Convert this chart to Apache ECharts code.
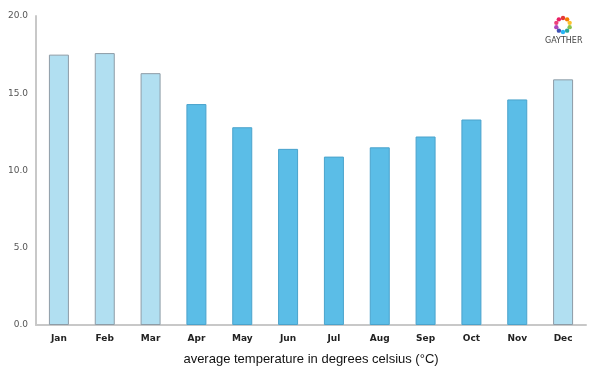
<!DOCTYPE html>
<html>
<head>
<meta charset="utf-8">
<script src="https://cdn.jsdelivr.net/npm/echarts@6/dist/echarts.min.js"></script>
<style>
  html, body { margin: 0; padding: 0; background: #fff; }
  #chart { width: 600px; height: 375px; }
</style>
</head>
<body>
<div id="chart"></div>
<script>
// monthly averages
var months = ['Jan', 'Feb', 'Mar', 'Apr', 'May', 'Jun', 'Jul', 'Aug', 'Sep', 'Oct', 'Nov', 'Dec'];
var temps = [17.5, 17.6, 16.3, 14.3, 12.8, 11.4, 10.9, 11.5, 12.2, 13.3, 14.6, 15.9];
// colder months drawn lighter
var coldMonth = [true, true, true, false, false, false, false, false, false, false, false, true];
var yTicks = [0, 5, 10, 15, 20];

var logoColors = ['#e53935', '#f57c00', '#fbc02d', '#8bc34a', '#26a69a', '#29b6f6', '#3f51b5', '#ab47bc', '#ec407a', '#e91e63'];

function logoDots() {
	var out = [];
	var cx = 563, cy = 25, r = 7;
	for (var i = 0; i < logoColors.length; i++) {
		var a = i / logoColors.length * Math.PI * 2 - Math.PI / 2;
		out.push({
			type: 'circle',
			shape: { cx: cx + Math.cos(a) * r, cy: cy + Math.sin(a) * r, r: 2.2 },
			style: { fill: logoColors[i] }
		});
	}
	out.push({
		type: 'text',
		left: 545, top: 37,
		style: { text: 'GAYTHER', font: '8px "DejaVu Sans", sans-serif', fill: '#444' }
	});
	return out;
}

var barData = temps.map(function(v, i) {
	return {
		value: v,
		itemStyle: coldMonth[i] ?
			{ color: '#b1dff1', borderColor: '#8e9ca6', borderWidth: 1 } :
			{ color: '#5bbde7', borderColor: '#4aa3cc', borderWidth: 1 }
	};
});

var myChart = echarts.init(document.getElementById('chart'));
var option = {
	animation: false,
	grid: { left: 36, right: 14, top: 16, bottom: 50, containLabel: false },
	xAxis: {
		type: 'category',
		data: months,
		name: 'average temperature in degrees celsius (°C)',
		nameLocation: 'middle',
		nameGap: 28,
		nameTextStyle: { fontFamily: 'Liberation Sans', fontSize: 13, color: '#111' },
		axisLine: { lineStyle: { color: '#c8c8c8', width: 2 } },
		axisTick: { show: false },
		axisLabel: { fontFamily: 'DejaVu Sans', fontSize: 9, fontWeight: 'bold', color: '#222', margin: 9 }
	},
	yAxis: {
		type: 'value',
		min: yTicks[0],
		max: yTicks[yTicks.length - 1],
		interval: 5,
		axisLine: { show: true, lineStyle: { color: '#c8c8c8', width: 2 } },
		axisTick: { show: false },
		splitLine: { show: false },
		axisLabel: {
			fontFamily: 'DejaVu Sans', fontSize: 9, color: '#555', margin: 8,
			formatter: function(v) { return v.toFixed(1); }
		}
	},
	series: [{
		type: 'bar',
		data: barData,
		barWidth: 20
	}],
	graphic: logoDots()
};
myChart.setOption(option);
</script>
</body>
</html>
